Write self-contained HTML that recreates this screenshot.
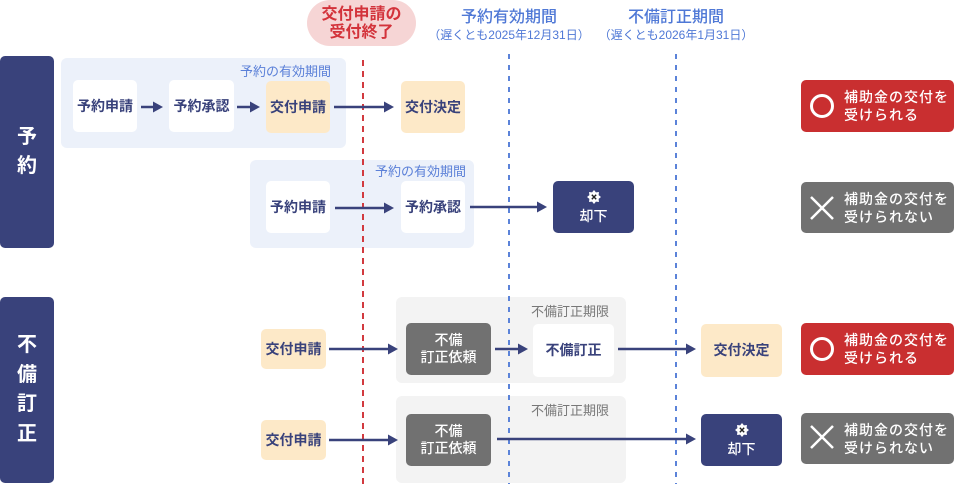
<!DOCTYPE html>
<html><head><meta charset="utf-8">
<style>
*{margin:0;padding:0;box-sizing:border-box}
html,body{width:960px;height:484px;background:#fff;overflow:hidden}
body{position:relative;font-family:"Liberation Sans","Noto Sans CJK JP",sans-serif}
.a{position:absolute}
.box{position:absolute;display:flex;flex-direction:column;align-items:center;justify-content:center;border-radius:5px;font-size:14px;font-weight:700;color:#39427b;line-height:17px;text-align:center}
.w{background:#fff}
.p{background:#fde9c8}
.g{background:#717171;color:#fff;font-weight:500}
.n{background:#39427b;color:#fff;font-weight:500}
.side{position:absolute;left:0;width:54px;background:#39427b;border-radius:5px;color:#fff;font-size:20px;font-weight:700;display:flex;flex-direction:column;align-items:center;justify-content:center;line-height:29.5px}
.lbl{position:absolute;font-size:13px;white-space:nowrap;line-height:16px}
.badge{position:absolute;left:801px;width:153px;border-radius:5px;color:#fff}
.badge .t{position:absolute;left:43px;top:8px;font-size:14px;line-height:18px;letter-spacing:1px;font-weight:500;white-space:nowrap}
.hd{position:absolute;text-align:center;color:#4f78d6;white-space:nowrap}
</style></head><body>

<!-- header -->
<div class="a" style="left:307px;top:0;width:109px;height:46px;background:#f6d5d5;border-radius:23px;color:#d3333b;font-size:16px;font-weight:700;line-height:18px;text-align:center;padding-top:6px">交付申請の<br>受付終了</div>
<div class="hd" style="left:409px;top:8px;width:200px;font-size:16px;line-height:20px;font-weight:500">予約有効期間</div>
<div class="hd" style="left:409px;top:27px;width:200px;font-size:12px;line-height:16px">（遅くとも2025年12月31日）</div>
<div class="hd" style="left:576px;top:8px;width:200px;font-size:16px;line-height:20px;font-weight:500">不備訂正期間</div>
<div class="hd" style="left:576px;top:27px;width:200px;font-size:12px;line-height:16px">（遅くとも2026年1月31日）</div>

<!-- side labels -->
<div class="side" style="top:56px;height:192px">予<br>約</div>
<div class="side" style="top:297px;height:186px">不<br>備<br>訂<br>正</div>

<!-- backgrounds -->
<div class="a" style="left:61px;top:58px;width:285px;height:90px;background:#ecf1fa;border-radius:6px"></div>
<div class="a" style="left:250px;top:160px;width:224px;height:88px;background:#ecf1fa;border-radius:6px"></div>
<div class="a" style="left:396px;top:297px;width:230px;height:86px;background:#f3f3f3;border-radius:6px"></div>
<div class="a" style="left:396px;top:396px;width:230px;height:87px;background:#f3f3f3;border-radius:6px"></div>

<div class="lbl" style="left:240px;top:64px;color:#5b80d8">予約の有効期間</div>
<div class="lbl" style="left:375px;top:164px;color:#5b80d8">予約の有効期間</div>
<div class="lbl" style="left:531px;top:304px;color:#777">不備訂正期限</div>
<div class="lbl" style="left:531px;top:403px;color:#777">不備訂正期限</div>

<svg class="a" style="left:0;top:0" width="960" height="484" viewBox="0 0 960 484">
  <g stroke-width="2" fill="none">
    <line x1="363" y1="60" x2="363" y2="484" stroke="#d23a3f" stroke-dasharray="6 5"/>
    <line x1="509" y1="54" x2="509" y2="484" stroke="#5b83d9" stroke-dasharray="5 6"/>
    <line x1="676" y1="54" x2="676" y2="484" stroke="#5b83d9" stroke-dasharray="5 6"/>
  </g>
  <g stroke="#39427b" stroke-width="2.5">
    <line x1="141" y1="107" x2="155" y2="107"/>
    <line x1="237" y1="107" x2="252" y2="107"/>
    <line x1="334" y1="107" x2="386" y2="107"/>
    <line x1="335" y1="208" x2="386" y2="208"/>
    <line x1="470" y1="207" x2="539" y2="207"/>
    <line x1="329" y1="349" x2="390" y2="349"/>
    <line x1="495" y1="349" x2="520" y2="349"/>
    <line x1="618" y1="349" x2="688" y2="349"/>
    <line x1="329" y1="440" x2="390" y2="440"/>
    <line x1="497" y1="439" x2="688" y2="439"/>
  </g>
  <g fill="#39427b">
    <polygon points="163,107 153,101.5 153,112.5"/>
    <polygon points="260,107 250,101.5 250,112.5"/>
    <polygon points="394,107 384,101.5 384,112.5"/>
    <polygon points="394,208 384,202.5 384,213.5"/>
    <polygon points="547,207 537,201.5 537,212.5"/>
    <polygon points="398,349 388,343.5 388,354.5"/>
    <polygon points="528,349 518,343.5 518,354.5"/>
    <polygon points="696,349 686,343.5 686,354.5"/>
    <polygon points="398,440 388,434.5 388,445.5"/>
    <polygon points="696,439 686,433.5 686,444.5"/>
  </g>
</svg>

<!-- row 1 -->
<div class="box w" style="left:73px;top:80px;width:64px;height:52px">予約申請</div>
<div class="box w" style="left:169px;top:80px;width:65px;height:52px">予約承認</div>
<div class="box p" style="left:266px;top:81px;width:64px;height:52px">交付申請</div>
<div class="box p" style="left:401px;top:81px;width:64px;height:52px">交付決定</div>

<!-- row 2 -->
<div class="box w" style="left:266px;top:181px;width:64px;height:52px">予約申請</div>
<div class="box w" style="left:401px;top:181px;width:64px;height:52px">予約承認</div>
<div class="box n" style="left:553px;top:181px;width:81px;height:52px;justify-content:flex-start;padding-top:8px">
  <svg width="16" height="16" viewBox="-8 -8 16 16" style="display:block"><polygon fill="#fff" points="7,0 4.62,1.91 4.95,4.95 1.91,4.62 0,7 -1.91,4.62 -4.95,4.95 -4.62,1.91 -7,0 -4.62,-1.91 -4.95,-4.95 -1.91,-4.62 0,-7 1.91,-4.62 4.95,-4.95 4.62,-1.91"/><path d="M-2.2,-2.2L2.2,2.2M2.2,-2.2L-2.2,2.2" stroke="#222" stroke-width="1.4"/></svg>
  <div style="margin-top:3px">却下</div>
</div>

<!-- row 3 -->
<div class="box p" style="left:261px;top:329px;width:65px;height:40px">交付申請</div>
<div class="box g" style="left:406px;top:323px;width:85px;height:52px">不備<br>訂正依頼</div>
<div class="box w" style="left:533px;top:324px;width:81px;height:53px">不備訂正</div>
<div class="box p" style="left:701px;top:324px;width:81px;height:53px">交付決定</div>

<!-- row 4 -->
<div class="box p" style="left:261px;top:420px;width:65px;height:40px">交付申請</div>
<div class="box g" style="left:406px;top:414px;width:85px;height:52px">不備<br>訂正依頼</div>
<div class="box n" style="left:701px;top:414px;width:81px;height:52px;justify-content:flex-start;padding-top:8px">
  <svg width="16" height="16" viewBox="-8 -8 16 16" style="display:block"><polygon fill="#fff" points="7,0 4.62,1.91 4.95,4.95 1.91,4.62 0,7 -1.91,4.62 -4.95,4.95 -4.62,1.91 -7,0 -4.62,-1.91 -4.95,-4.95 -1.91,-4.62 0,-7 1.91,-4.62 4.95,-4.95 4.62,-1.91"/><path d="M-2.2,-2.2L2.2,2.2M2.2,-2.2L-2.2,2.2" stroke="#222" stroke-width="1.4"/></svg>
  <div style="margin-top:3px">却下</div>
</div>

<!-- badges -->
<div class="badge" style="top:80px;height:52px;background:#c92f30">
  <svg class="a" style="left:8px;top:13px" width="26" height="26"><circle cx="13" cy="13" r="10.5" fill="none" stroke="#fff" stroke-width="3"/></svg>
  <div class="t">補助金の交付を<br>受けられる</div>
</div>
<div class="badge" style="top:182px;height:51px;background:#717171">
  <svg class="a" style="left:9px;top:14px" width="24" height="24"><path d="M1,1L23,23M23,1L1,23" stroke="#fff" stroke-width="2.5"/></svg>
  <div class="t">補助金の交付を<br>受けられない</div>
</div>
<div class="badge" style="top:323px;height:52px;background:#c92f30">
  <svg class="a" style="left:8px;top:13px" width="26" height="26"><circle cx="13" cy="13" r="10.5" fill="none" stroke="#fff" stroke-width="3"/></svg>
  <div class="t">補助金の交付を<br>受けられる</div>
</div>
<div class="badge" style="top:413px;height:51px;background:#717171">
  <svg class="a" style="left:9px;top:12px" width="24" height="24"><path d="M1,1L23,23M23,1L1,23" stroke="#fff" stroke-width="2.5"/></svg>
  <div class="t">補助金の交付を<br>受けられない</div>
</div>

</body></html>
